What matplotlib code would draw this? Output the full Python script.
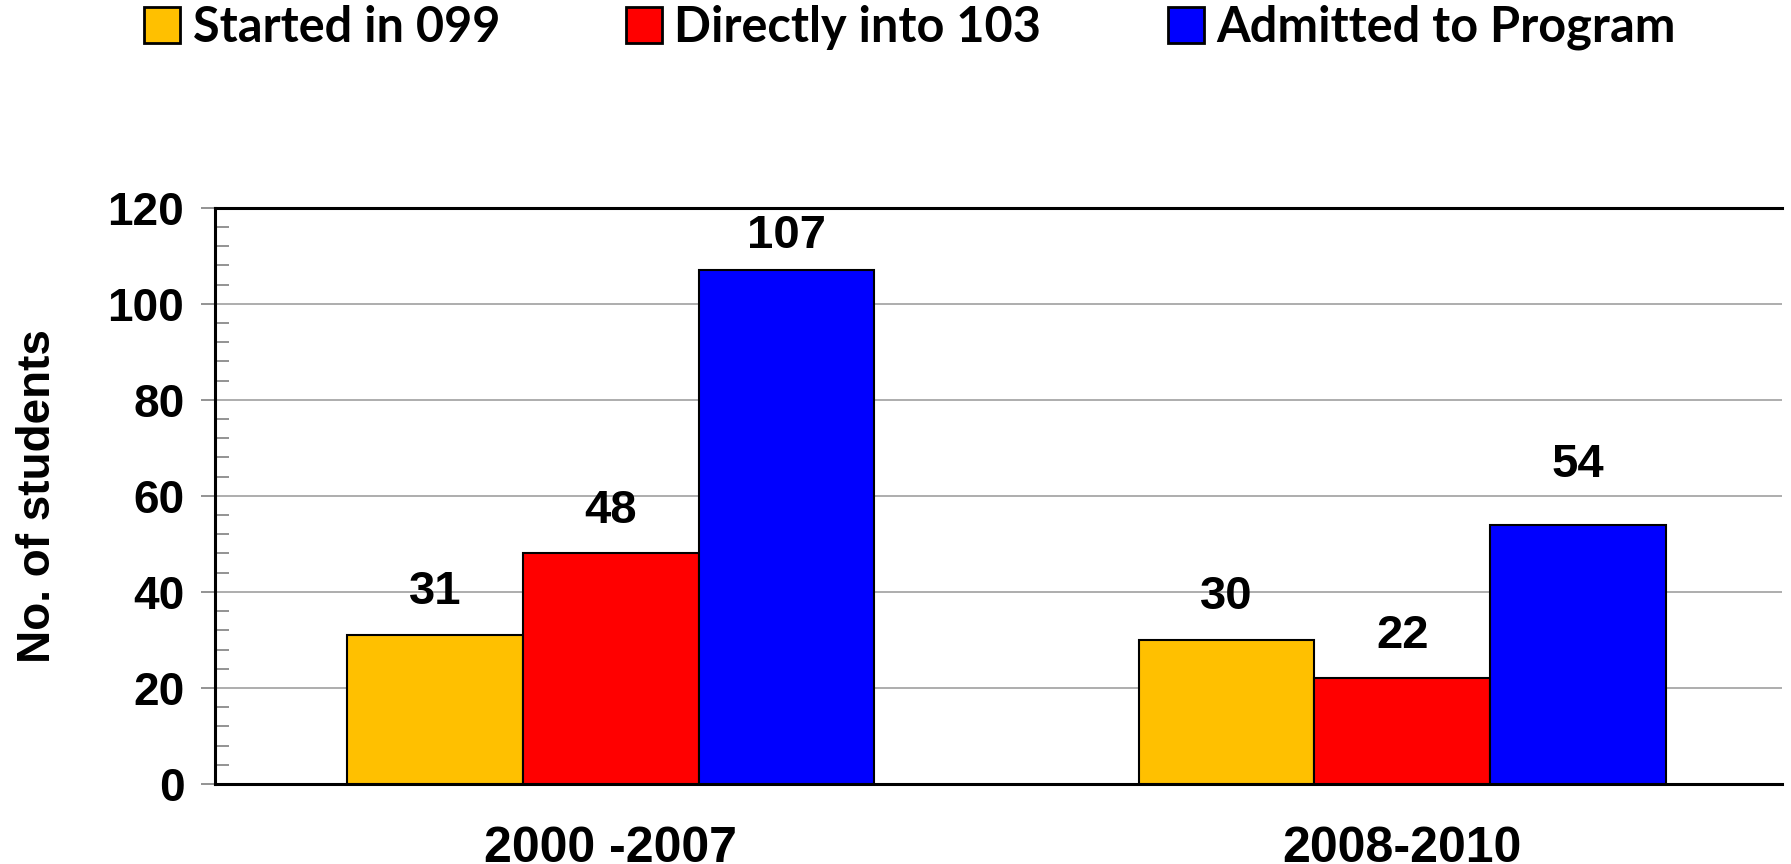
import matplotlib
matplotlib.use("Agg")
import matplotlib.pyplot as plt
import numpy as np
from matplotlib.ticker import MultipleLocator
from matplotlib import font_manager as fm

categories = ["2000 -2007", "2008-2010"]
series_names = ["Started in 099", "Directly into 103", "Admitted to Program"]
started_099 = [31, 30]
direct_103 = [48, 22]
admitted = [107, 54]
y_ticks = [0, 20, 40, 60, 80, 100, 120]

colors = ["#FFC000", "#FF0000", "#0000FF"]
# vertical offset of each value label above its bar (points), per series/category
label_pads = [[15, 15], [15, 15], [9, 27]]

names = {f.name for f in fm.fontManager.ttflist}
narrow = "Liberation Sans Narrow" if "Liberation Sans Narrow" in names else "Liberation Sans"
legend_font = "Lato" if "Lato" in names else "DejaVu Sans"

fig = plt.figure(figsize=(17.91, 8.64), dpi=100)
ax = fig.add_axes([0.120, 0.0926, 0.875, 0.667])

x = np.arange(len(categories))
w = 0.222
all_series = [started_099, direct_103, admitted]
for i, (vals, name, c) in enumerate(zip(all_series, series_names, colors)):
    bars = ax.bar(x + (i - 1) * w, vals, w, color=c, edgecolor="black",
                  linewidth=1.5, label=name, zorder=3)
    for j, (b, v) in enumerate(zip(bars, vals)):
        ax.annotate(str(v), (b.get_x() + b.get_width() / 2, v),
                    xytext=(0, label_pads[i][j]), textcoords="offset points",
                    ha="center", va="bottom", fontsize=34, fontweight="bold",
                    family="Liberation Sans", zorder=4)

ax.set_xlim(-0.5, 1.48)
ax.set_ylim(0, 120)
ax.set_yticks(y_ticks)
ax.yaxis.set_minor_locator(MultipleLocator(4))
ax.grid(axis="y", which="major", color="#a0a0a0", linewidth=1.2, zorder=0)
ax.set_axisbelow(True)

ax.spines["right"].set_visible(False)
for s in ["left", "bottom", "top"]:
    ax.spines[s].set_linewidth(2.2)
    ax.spines[s].set_color("black")

ax.tick_params(axis="y", which="major", direction="out", length=10, width=1.2,
               color="#808080", pad=12, labelsize=33)
ax.tick_params(axis="y", which="minor", direction="in", length=10, width=1.2,
               color="#808080")
ax.tick_params(axis="x", length=0, pad=30)
ax.set_xticks(x)
ax.set_xticklabels(categories)
for lab in ax.get_yticklabels():
    lab.set_fontweight("bold")
    lab.set_family("Liberation Sans")
for lab in ax.get_xticklabels():
    lab.set_fontweight("bold")
    lab.set_family(narrow)
    lab.set_fontsize(36)

ax.set_ylabel("No. of students", fontsize=33, fontweight="bold",
              family="Liberation Sans", labelpad=34)

leg = fig.legend(loc="upper center", bbox_to_anchor=(0.508, 1.045), ncol=3,
                 frameon=False, prop={"family": legend_font, "weight": "bold", "size": 35},
                 handlelength=0.74, handleheight=0.77, handletextpad=0.25,
                 columnspacing=2.6)
for h in leg.legend_handles:
    h.set_linewidth(2)

fig.savefig("out.png", dpi=100)
